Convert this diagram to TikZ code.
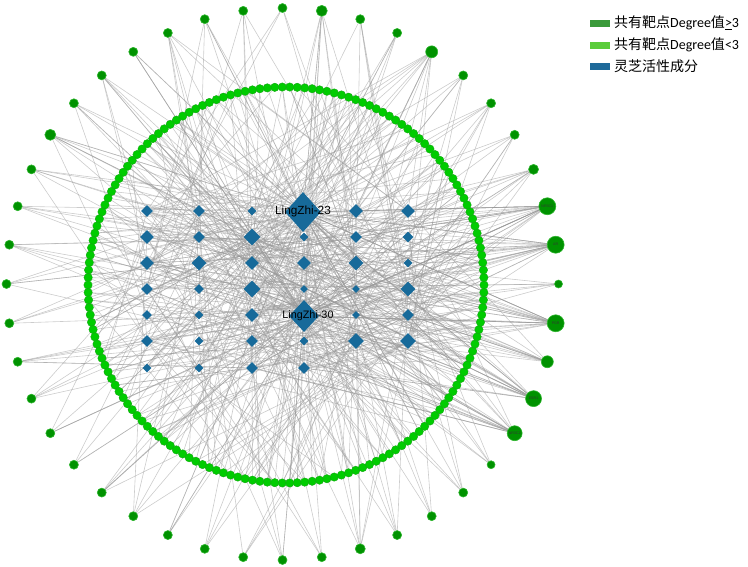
\documentclass[tikz,border=0pt]{standalone}
\usepackage{fontspec}
\setmainfont{Carlito}
\newfontfamily\cjk{Noto Sans CJK SC}
\newfontfamily\arialf{Liberation Sans}
\usetikzlibrary{shapes.geometric}
\pgfdeclarelayer{edgelayer}
\pgfsetlayers{edgelayer,main}
\definecolor{outerg}{HTML}{009200}
\definecolor{outerrim}{HTML}{2DB52D}
\definecolor{innerg}{HTML}{00CC00}
\definecolor{innerrim}{HTML}{13A813}
\definecolor{dblue}{HTML}{176A9A}
\definecolor{legdark}{HTML}{3A9A3A}
\definecolor{leglight}{HTML}{5ACC3A}
\definecolor{legblue}{HTML}{1E6A9A}
\begin{document}
\begin{tikzpicture}[x=1pt,y=-1pt,
  outernode/.style={circle,fill=outerg,draw=outerrim,line width=0.6pt,inner sep=0pt,minimum size=#1},
  ringnode/.style={circle,fill=innerg,draw=innerrim,line width=0.4pt,inner sep=0pt,minimum size=8.4pt},
  dnode/.style={diamond,fill=dblue,draw=none,inner sep=0pt},
  linkline/.style={draw=black!40,draw opacity=0.5,line width=0.6pt},
  tinylab/.style={font=\arialf\fontsize{3.6}{4}\selectfont,text=black!80,inner sep=0pt},
  biglab/.style={font=\arialf\fontsize{11.8}{13}\selectfont,text=black,inner sep=0pt},
  legpatch/.style={rectangle,draw=none,inner sep=0pt,minimum width=20pt,minimum height=7pt},
  legtext/.style={anchor=west,inner sep=0pt,font=\fontsize{14}{16}\selectfont}]
\useasboundingbox (0,0) rectangle (748,566);
\pgfmathsetseed{7}
% outer ring of shared targets
\foreach \k/\s in {0/8,1/17,2/17,3/10,4/9,5/9,6/9,7/12,8/9,9/9,10/11,11/9,12/9,13/9,14/9,15/9,16/9,17/9,18/11,19/9,20/9,21/9,22/9,23/9,24/9,25/9,26/9,27/9,28/9,29/9,30/9,31/9,32/9,33/9,34/9,35/10,36/9,37/9,38/9,39/8,40/15,41/16,42/12,43/17}{
  \node[outernode=\s] (o\k) at ({282.5+276*cos(\k*8.181818)},{284-276*sin(\k*8.181818)}) {};
}
% inner ring
\foreach \i in {0,...,165}{
  \node[ringnode] (i\i) at ({286+198*cos(\i*2.1686747)},{285-198*sin(\i*2.1686747)}) {};
}
% diamonds (active components)
\foreach \n/\x/\y/\w in {1/147/211/12,2/199/211/12,3/252/211/9,5/356/211/14,6/408/211/14,
  7/147/237/14,8/199/237/12,9/252/237/17,10/304/237/9,11/356/237/12,12/408/237/11,
  13/147/263/14,14/199/263/15,15/252/263/14,16/304/263/14,17/356/263/15,18/408/263/9,
  19/147/289/12,20/199/289/10,21/252/289/17,22/304/289/8,23/356/289/8,24/408/289/15,
  25/147/315/10,26/199/315/9,27/252/315/14,29/356/315/8,30/408/315/12,
  31/147/341/12,32/199/341/9,33/252/341/12,34/304/341/9,35/356/341/16,36/408/341/16,
  37/147/368/9,38/199/368/9,39/252/368/12,40/304/368/12}{
  \node[dnode,minimum width=\w,minimum height=\w] (d\n) at (\x,\y) {};
}
\node[dnode,minimum width=36,minimum height=40] (d4) at (303,212) {};
\node[dnode,minimum width=30,minimum height=32] (d28) at (304,316) {};
\node[biglab] (t23) at (303,211) {LingZhi-23};
\node[biglab,font=\arialf\fontsize{10.8}{12}\selectfont] (t30) at (308,316) {LingZhi-30};
% small labels of the largest targets
\node[tinylab] (l1) at (o1) {AR};
\node[tinylab] (l2) at (o2) {NR3C1};
\node[tinylab] (l43) at (o43) {PGR};
\node[tinylab] (l41) at (o41) {ESR1};
\node[tinylab] (l40) at (o40) {NR3C2};
% edges
\def\warr{{3,10,18,20,22,23,25,26,29,32,34,37,38,12,1,1,2,2,5,5,6,6,7,7,8,8,13,13,15,15,16,16,19,19,27,27,30,30,31,31,33,33,39,39,40,40,17,17,11,11,9,9,9,14,14,14,21,21,21,24,24,24,35,35,35,36,36,36,4,4,4,4,4,4,4,4,4,4,4,4,28,28,28,28,28,28,28,28}}
\begin{pgfonlayer}{edgelayer}
\foreach \k/\dg in {0/6,1/24,2/26,3/9,4/6,5/7,6/6,7/13,8/5,9/5,10/9,11/4,12/5,13/6,14/7,15/5,16/7,17/6,18/9,19/6,20/5,21/6,22/5,23/4,24/6,25/5,26/5,27/4,28/6,29/5,30/5,31/4,32/4,33/5,34/4,35/7,36/5,37/4,38/5,39/5,40/20,41/22,42/13,43/25}{
  \foreach \j in {1,...,\dg}{
    \pgfmathrandominteger{\rr}{0}{87}
    \pgfmathtruncatemacro\tg{\warr[\rr]}
    \draw[linkline] (o\k) -- (d\tg);
  }
}
\foreach \i in {0,...,165}{
  \pgfmathrandominteger{\nd}{1}{3}
  \foreach \j in {1,...,\nd}{
    \pgfmathrandominteger{\rr}{0}{87}
    \pgfmathtruncatemacro\tg{\warr[\rr]}
    \draw[linkline] (i\i) -- (d\tg);
  }
}
\end{pgfonlayer}
% legend
\node[legpatch,fill=legdark] (lp1) at (600,23) {};
\node[legpatch,fill=leglight] (lp2) at (600,45) {};
\node[legpatch,fill=legblue] (lp3) at (600,66) {};
\node[legtext] (lt1) at (614,23) {{\cjk 共有靶点}Degree{\cjk 值}\underline{>}3};
\node[legtext] (lt2) at (614,45) {{\cjk 共有靶点}Degree{\cjk 值}<3};
\node[legtext] (lt3) at (614,66) {\cjk 灵芝活性成分};
\end{tikzpicture}
\end{document}
